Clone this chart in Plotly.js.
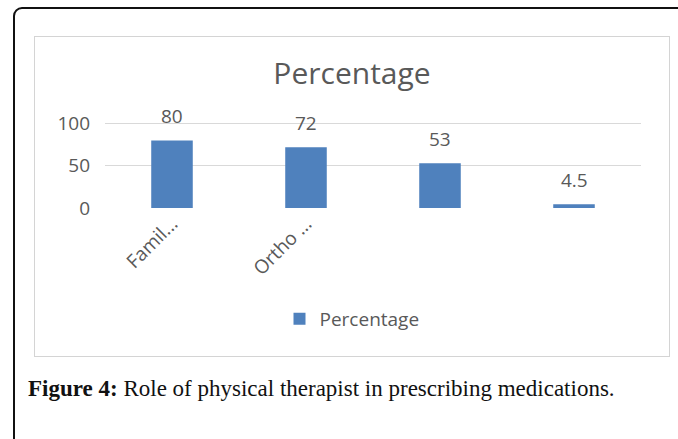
<!DOCTYPE html>
<html>
<head>
<meta charset="utf-8">
<script src="https://cdn.plot.ly/plotly-3.0.1.min.js"></script>
<style>
  html, body { margin: 0; padding: 0; width: 678px; height: 439px; overflow: hidden; background: #fff; }
  #frame { position: absolute; left: 13px; top: 7px; width: 720px; height: 480px; border: 2px solid #111; border-radius: 9px; box-sizing: border-box; }
  #chartbox { position: absolute; left: 34px; top: 36px; width: 636px; height: 321px; border: 1px solid #d4d4d4; box-sizing: border-box; background: #fff; }
  #chart { position: absolute; left: 0; top: 0; }
  #caption { position: absolute; left: 28px; top: 376px; font-family: "Liberation Serif", serif; font-size: 23px; color: #111; white-space: nowrap; }
  #caption b { font-weight: bold; }
</style>
</head>
<body>
<div id="frame"></div>
<div id="chartbox"><div id="chart"></div></div>
<div id="caption"><b>Figure 4:</b> Role of physical therapist in prescribing medications.</div>
<script>
// Data
const categories = ["Famil...", "Ortho ...", "Category 3", "Category 4"];
const tickLabels = ["Famil...", "Ortho ...", "", ""];
const percentage = [80, 72, 53, 4.5];
const valueLabels = ["80", "72", "53", "4.5"];
const seriesName = "Percentage";
const chartTitle = "Percentage";
const yTicks = [0, 50, 100];

const textColor = "#595959";
const barColor = "#4f81bd";
const fontFam = "Open Sans, sans-serif";

const trace = {
  type: "bar",
  x: categories,
  y: percentage,
  name: seriesName,
  marker: { color: barColor },
  width: 0.31,
  showlegend: true,
  hoverinfo: "x+y"
};

const annotations = categories.map((c, i) => ({
  x: c, y: percentage[i], xref: "x", yref: "y",
  text: valueLabels[i], showarrow: false,
  yanchor: "middle", yshift: 24,
  font: { family: fontFam, size: 19, color: textColor }
}));

const layout = {
  width: 634, height: 319,
  margin: { l: 70, r: 28, t: 84, b: 148, pad: 0 },
  paper_bgcolor: "#ffffff",
  plot_bgcolor: "#ffffff",
  title: {
    text: chartTitle,
    xref: "container", x: 0.5, xanchor: "center",
    yref: "container", y: 1 - 36 / 319, yanchor: "middle",
    font: { family: fontFam, size: 30, color: textColor }
  },
  xaxis: {
    type: "category",
    tickvals: categories,
    ticktext: tickLabels,
    tickangle: -45,
    showgrid: false,
    zeroline: false,
    showline: false,
    ticks: "",
    tickfont: { family: fontFam, size: 19, color: textColor },
    fixedrange: true
  },
  yaxis: {
    range: [0, 103],
    tickvals: yTicks,
    showgrid: true,
    gridcolor: "#d9d9d9",
    gridwidth: 1,
    zeroline: false,
    showline: false,
    ticks: "",
    ticklabelstandoff: 14,
    tickfont: { family: fontFam, size: 19, color: textColor },
    fixedrange: true
  },
  legend: {
    orientation: "h",
    xref: "container", x: 0.5, xanchor: "center",
    yref: "container", y: 1 - 282 / 319, yanchor: "middle",
    font: { family: fontFam, size: 19, color: textColor },
    itemwidth: 30
  },
  annotations: annotations,
  showlegend: true
};

Plotly.newPlot("chart", [trace], layout, { displayModeBar: false, staticPlot: true });
</script>
</body>
</html>
